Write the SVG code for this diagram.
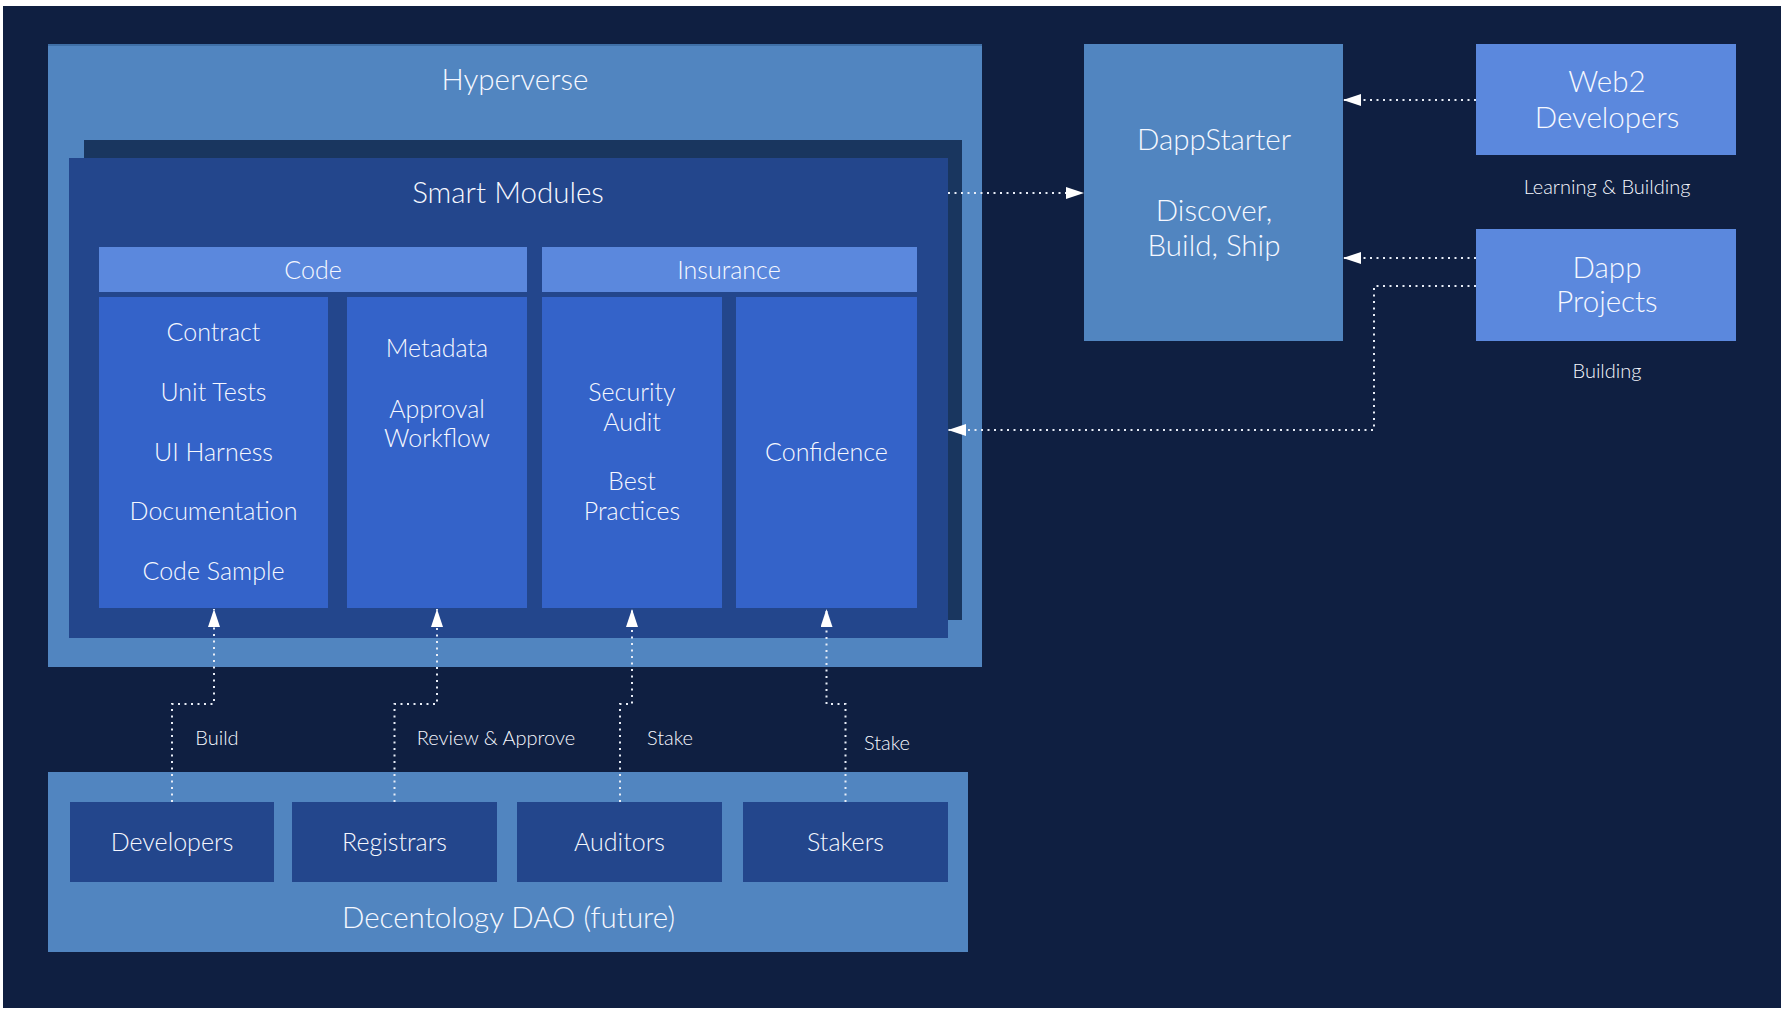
<svg xmlns="http://www.w3.org/2000/svg" width="1784" height="1012" viewBox="0 0 1784 1012">
<style>
.t{font-family:Lato,"Open Sans","Liberation Sans",sans-serif;font-weight:300;fill:#f6f8ff;text-anchor:middle;dominant-baseline:central}
.xl{font-size:29.5px}
.md{font-size:25px}
.sm{font-size:20px}
.outer{fill:#5185c0}
.dark{fill:#23468c}
.hdr{fill:#5b88dd}
.col{fill:#3463c9}
.dot{fill:none;stroke:#e8edf7;stroke-width:2;stroke-dasharray:2 4.5}
</style>
<defs>
<marker id="ah" viewBox="0 0 18 12" refX="18" refY="6" markerWidth="18" markerHeight="12" markerUnits="userSpaceOnUse" orient="auto">
<path d="M0,0 L18,6 L0,12 Z" fill="#ffffff"/>
</marker>
</defs>
<rect x="0" y="0" width="1784" height="1012" fill="#ffffff"/>
<rect x="3" y="6" width="1778" height="1002" fill="#0f1f41"/>

<g id="hyperverse">
<rect class="outer" x="48" y="44" width="934" height="623"/>
<rect x="48" y="44" width="934" height="2" fill="#3f6fa6"/>
<text class="t xl" x="515" y="78">Hyperverse</text>
</g>

<g id="smart-modules-shadow">
<rect x="84" y="140" width="878" height="480" fill="#19365f"/>
</g>

<g id="smart-modules">
<rect class="dark" x="69" y="158" width="879" height="480"/>
<text class="t xl" x="508" y="191">Smart Modules</text>
</g>

<g id="code">
<rect class="hdr" x="99" y="247" width="428" height="45"/>
<text class="t md" x="313" y="268.5">Code</text>
</g>

<g id="insurance">
<rect class="hdr" x="542" y="247" width="375" height="45"/>
<text class="t md" x="729" y="268.5">Insurance</text>
</g>

<g id="code-items">
<rect class="col" x="99" y="297" width="229" height="311"/>
<text class="t md" x="213.5" y="331">Contract</text>
<text class="t md" x="213.5" y="391">Unit Tests</text>
<text class="t md" x="213.5" y="450.5">UI Harness</text>
<text class="t md" x="213.5" y="510">Documentation</text>
<text class="t md" x="213.5" y="569.5">Code Sample</text>
</g>

<g id="metadata">
<rect class="col" x="347" y="297" width="180" height="311"/>
<text class="t md" x="437" y="347">Metadata</text>
<text class="t md" x="437" y="407.5">Approval</text>
<text class="t md" x="437" y="436.5">Workflow</text>
</g>

<g id="security">
<rect class="col" x="542" y="297" width="180" height="311"/>
<text class="t md" x="632" y="391">Security</text>
<text class="t md" x="632" y="420.5">Audit</text>
<text class="t md" x="632" y="480">Best</text>
<text class="t md" x="632" y="509.5">Practices</text>
</g>

<g id="confidence">
<rect class="col" x="736" y="297" width="181" height="311"/>
<text class="t md" x="826.5" y="450.5">Confidence</text>
</g>

<g id="dappstarter">
<rect class="outer" x="1084" y="44" width="259" height="297"/>
<text class="t xl" x="1214" y="138.5">DappStarter</text>
<text class="t xl" x="1214" y="209">Discover,</text>
<text class="t xl" x="1214" y="244">Build, Ship</text>
</g>

<g id="web2">
<rect class="hdr" x="1476" y="44" width="260" height="111"/>
<text class="t xl" x="1607" y="80.5">Web2</text>
<text class="t xl" x="1607" y="116">Developers</text>
<text class="t sm" x="1607" y="185.5">Learning &amp; Building</text>
</g>

<g id="dapp-projects">
<rect class="hdr" x="1476" y="229" width="260" height="112"/>
<text class="t xl" x="1607" y="266.5">Dapp</text>
<text class="t xl" x="1607" y="300">Projects</text>
<text class="t sm" x="1607" y="370">Building</text>
</g>

<g id="dao">
<rect class="outer" x="48" y="772" width="920" height="180"/>
<text class="t xl" x="508.5" y="916">Decentology DAO (future)</text>
</g>

<g id="developers">
<rect class="dark" x="70" y="802" width="204" height="80"/>
<text class="t md" x="172" y="840.5">Developers</text>
</g>
<g id="registrars">
<rect class="dark" x="292" y="802" width="205" height="80"/>
<text class="t md" x="394.5" y="840.5">Registrars</text>
</g>
<g id="auditors">
<rect class="dark" x="517" y="802" width="205" height="80"/>
<text class="t md" x="619.5" y="840.5">Auditors</text>
</g>
<g id="stakers">
<rect class="dark" x="743" y="802" width="205" height="80"/>
<text class="t md" x="845.5" y="840.5">Stakers</text>
</g>

<g id="connectors">
<path class="dot" d="M948,193 L1084,193" marker-end="url(#ah)"/>
<path class="dot" d="M1476,100 L1343,100" marker-end="url(#ah)"/>
<path class="dot" d="M1476,258 L1343,258" marker-end="url(#ah)"/>
<path class="dot" d="M1476,286 L1374,286 L1374,430 L948,430" marker-end="url(#ah)"/>
<path class="dot" d="M172,802 L172,704 L214,704 L214,609" marker-end="url(#ah)"/>
<path class="dot" d="M394.5,802 L394.5,704 L437,704 L437,609" marker-end="url(#ah)"/>
<path class="dot" d="M620,802 L620,704 L632,704 L632,609" marker-end="url(#ah)"/>
<path class="dot" d="M845.5,802 L845.5,704 L826.5,704 L826.5,609" marker-end="url(#ah)"/>
<text class="t sm" x="217" y="736.5">Build</text>
<text class="t sm" x="496" y="736.5">Review &amp; Approve</text>
<text class="t sm" x="670" y="736.5">Stake</text>
<text class="t sm" x="887" y="741.5">Stake</text>
</g>
</svg>
